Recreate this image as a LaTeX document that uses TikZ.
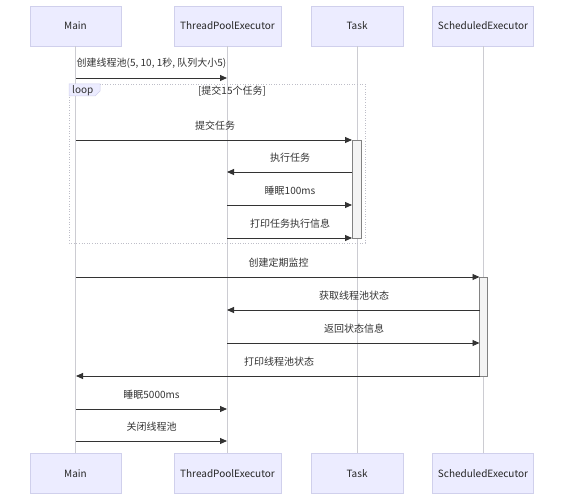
\documentclass[tikz,border=0pt]{standalone}
\usepackage{fontspec}
\setmainfont{Noto Sans CJK SC}
\usetikzlibrary{arrows.meta}
\definecolor{actfill}{RGB}{236,236,255}
\definecolor{actdraw}{RGB}{208,208,236}
\definecolor{lifegrey}{RGB}{204,204,210}
\definecolor{msgcol}{RGB}{51,51,51}
\definecolor{actbox}{RGB}{244,244,244}
\definecolor{actboxd}{RGB}{130,130,130}
\definecolor{loopcol}{RGB}{190,190,200}
\tikzset{
  actor/.style={draw=actdraw, fill=actfill, line width=0.6pt, minimum height=40pt, inner sep=0pt, font=\fontsize{10}{11}\selectfont, text=black!85},
  life/.style={draw=lifegrey, line width=0.7pt},
  msg/.style={draw=msgcol, line width=0.9pt, -{Triangle[length=7pt,width=6pt]}},
  lbl/.style={font=\fontsize{10}{11}\selectfont, text=black!80, inner sep=0pt},
  activ/.style={draw=actboxd, fill=actbox, line width=0.5pt},
}
\begin{document}
\begin{tikzpicture}[x=1pt,y=-1pt]
\useasboundingbox (0,0) rectangle (564,500);
\fill[white] (0,0) rectangle (564,500);
% actors top
\node[actor, minimum width=91pt] (mainT) at (75.5,26) {Main};
\node[actor, minimum width=107pt] (tpeT) at (227.5,26) {ThreadPoolExecutor};
\node[actor, minimum width=92pt] (taskT) at (357,26) {Task};
\node[actor, minimum width=101pt] (schT) at (483,26) {ScheduledExecutor};
% actors bottom
\node[actor, minimum width=91pt] (mainB) at (75.5,473.5) {Main};
\node[actor, minimum width=107pt] (tpeB) at (227.5,473.5) {ThreadPoolExecutor};
\node[actor, minimum width=92pt] (taskB) at (357,473.5) {Task};
\node[actor, minimum width=101pt] (schB) at (483,473.5) {ScheduledExecutor};
% lifelines
\draw[life] (mainT.south) -- (mainB.north);
\draw[life] (tpeT.south) -- (tpeB.north);
\draw[life] (taskT.south) -- (taskB.north);
\draw[life] (schT.south) -- (schB.north);
% loop frame
\draw[loopcol, line width=0.6pt, dotted] (69,84) rectangle (365,243);
\filldraw[draw=actdraw, fill=actfill, line width=0.5pt] (69,84) -- (100,84) -- (100,91) -- (95,96) -- (69,96) -- cycle;
\node[lbl, anchor=west] (looplbl) at (72,90.5) {loop};
\node[lbl] (loopcond) at (232,91.5) {[提交15个任务]};
% activations
\filldraw[activ] (352,140) rectangle (361,238);
\filldraw[activ] (479.5,277) rectangle (487,376);
% coordinates
\coordinate (m1) at (76,78);  \coordinate (t1) at (227,78);
\coordinate (m2) at (76,140); \coordinate (k2) at (352,140);
\coordinate (k3) at (352,172); \coordinate (t3) at (227,172);
\coordinate (t4) at (227,205); \coordinate (k4) at (352,205);
\coordinate (t5) at (227,238); \coordinate (k5) at (352,238);
\coordinate (m6) at (76,277); \coordinate (s6) at (479.5,277);
\coordinate (s7) at (479.5,310); \coordinate (t7) at (227,310);
\coordinate (t8) at (227,343); \coordinate (s8) at (479.5,343);
\coordinate (s9) at (479.5,376); \coordinate (m9) at (76,376);
\coordinate (m10) at (76,409); \coordinate (t10) at (227,409);
\coordinate (m11) at (76,441); \coordinate (t11) at (227,441);
% messages
\draw[msg] (m1) -- (t1);
\node[lbl] (l1) at (151.5,63) {创建线程池(5, 10, 1秒, 队列大小5)};
\draw[msg] (m2) -- (k2);
\node[lbl] (l2) at (215,126) {提交任务};
\draw[msg] (k3) -- (t3);
\node[lbl] (l3) at (290,158) {执行任务};
\draw[msg] (t4) -- (k4);
\node[lbl] (l4) at (290,190.5) {睡眠100ms};
\draw[msg] (t5) -- (k5);
\node[lbl] (l5) at (290,223.5) {打印任务执行信息};
\draw[msg] (m6) -- (s6);
\node[lbl] (l6) at (278.5,263) {创建定期监控};
\draw[msg] (s7) -- (t7);
\node[lbl] (l7) at (354,295.5) {获取线程池状态};
\draw[msg] (t8) -- (s8);
\node[lbl] (l8) at (354,328.5) {返回状态信息};
\draw[msg] (s9) -- (m9);
\node[lbl] (l9) at (279,361.5) {打印线程池状态};
\draw[msg] (m10) -- (t10);
\node[lbl] (l10) at (151.5,394.5) {睡眠5000ms};
\draw[msg] (m11) -- (t11);
\node[lbl] (l11) at (151.5,427) {关闭线程池};
\end{tikzpicture}
\end{document}
